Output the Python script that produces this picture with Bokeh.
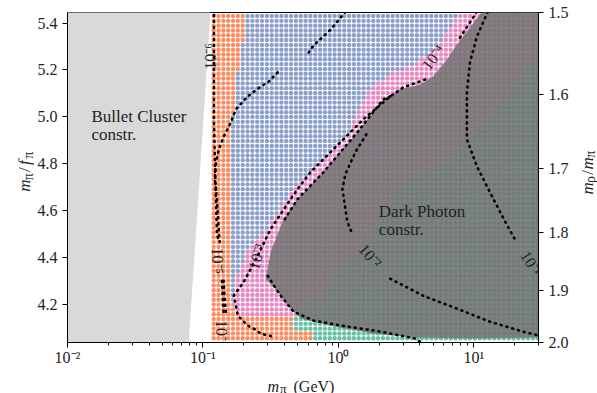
import math
import numpy as np
from bokeh.plotting import figure
from bokeh.layouts import row, column
from bokeh.models import (ColumnDataSource, LinearAxis, FixedTicker, CustomJSTickFormatter,
                          PrintfTickFormatter, Label, Range1d)
from bokeh.core.properties import value
from bokeh.embed import file_html
from bokeh.resources import INLINE

FONT = "Liberation Serif"
INK = "#222222"

# ---------------------------------------------------------------- axes
x_lo, x_hi = 0.01, 30.0          # m_pi (GeV), log scale
y_lo, y_hi = 4.037, 5.445        # m_pi / f_pi

x_major = [0.01, 0.1, 1, 10]
x_major_exp = [-2, -1, 0, 1]
x_major_labels = ["10\u207b\u00b2", "10\u207b\u00b9", "10\u2070", "10\u00b9"]
x_minor = [k * 10.0 ** e for e in (-2, -1, 0, 1) for k in range(2, 10)]

y_major = [4.2, 4.4, 4.6, 4.8, 5.0, 5.2, 5.4]

# right axis: m_rho/m_pi and where each value sits on the m_pi/f_pi scale
rho_ratio_labels = ["1.5", "1.6", "1.7", "1.8", "1.9", "2.0"]
rho_ratio_pos = [5.445, 5.095, 4.781, 4.508, 4.259, 4.037]

# ---------------------------------------------------------------- scan grid
scan_m_pi = np.geomspace(0.12, 29.6, 68)
scan_ratio = np.linspace(4.055, 5.43, 68)

# region boundaries (m_pi in GeV at a given m_pi/f_pi), ascending m_pi/f_pi
orange_blue_y = [4.1475, 4.224, 4.309, 4.479, 4.649, 4.819, 4.947, 5.074, 5.180, 5.244, 5.308, 5.371, 5.448]
orange_blue_x = [0.170, 0.165, 0.158, 0.155, 0.155, 0.158, 0.163, 0.170, 0.178, 0.190, 0.195, 0.205, 0.210]

blue_pink_y = [4.148, 4.224, 4.322, 4.437, 4.543, 4.671, 4.734, 4.917, 5.117, 5.180, 5.214, 5.274, 5.329, 5.448]
blue_pink_x = [0.166, 0.166, 0.181, 0.214, 0.316, 0.444, 0.553, 1.165, 1.635, 2.412, 3.383, 4.749, 5.92, 7.889]

pink_green_y = [4.152, 4.279, 4.364, 4.424, 4.509, 4.636, 4.704, 4.819, 4.976, 5.087, 5.223, 5.265, 5.30]
pink_green_x = [0.4995, 0.874, 1.034, 1.528, 1.809, 2.412, 2.858, 6.33, 12.46, 17.48, 25.81, 29.4, 40.0]

low_band_top = 4.1475
low_split_y = [4.06, 4.085, 4.09]
low_split_x = [0.6225, 0.6225, 0.483]

region_colors = ["#fc8d62", "#8da0cb", "#e78ac3", "#66c2a5"]

# excluded regions
bullet_x = [0.0090, 0.1140, 0.0782, 0.0090]
bullet_y = [5.46, 5.46, 4.02, 4.02]

dark_photon_x = [11.9, 7.499, 6.33, 4.996, 4.009, 2.858, 2.142, 1.379, 0.776, 0.4995, 0.394, 0.316,
                 0.2905, 0.356, 0.444, 0.526, 0.919, 1.809, 3.561, 9.346, 29.4, 40.0, 40.0]
dark_photon_y = [5.46, 5.308, 5.244, 5.172, 5.138, 5.117, 5.074, 4.934, 4.764, 4.649, 4.564, 4.424,
                 4.309, 4.254, 4.182, 4.139, 4.105, 4.075, 4.058, 4.054, 4.058, 4.058, 5.46]

# contour lines (dotted), split where a level label sits
c6_top_x = [0.1205, 0.1205, 0.1246, 0.1267, 0.1300]
c6_top_y = [5.46, 4.989, 4.649, 4.509, 4.466]
c6_low_x = [0.1380, 0.1403, 0.1420]
c6_low_y = [4.300, 4.220, 4.165]

c5_top_x = [1.126, 0.8735, 0.655, 0.582]
c5_top_y = [5.448, 5.371, 5.304, 5.261]
c5_mid_x = [0.356, 0.3006, 0.267, 0.2142, 0.1748, 0.1607, 0.1427, 0.1311, 0.1246, 0.1226, 0.1267, 0.1311, 0.1330]
c5_mid_y = [5.189, 5.146, 5.129, 5.087, 5.032, 4.976, 4.917, 4.862, 4.806, 4.734, 4.649, 4.509, 4.466]
c5_low_x = [0.1420, 0.1450, 0.1476]
c5_low_y = [4.300, 4.220, 4.165]

c4_top_x = [10.52, 7.889]
c4_top_y = [5.448, 5.3375]
c4_main_x = [4.362, 3.006, 2.412, 1.528, 1.034, 0.6225, 0.4995, 0.4437, 0.3162, 0.2538, 0.2002,
             0.169, 0.181, 0.2142, 0.2371, 0.267, 0.327]
c4_main_y = [5.159, 5.125, 5.087, 4.989, 4.891, 4.764, 4.6915, 4.649, 4.5215, 4.4067, 4.2962,
             4.2367, 4.1517, 4.1092, 4.0965, 4.0752, 4.0625]

c3_top_x = [2.412, 2.142, 1.379, 0.776, 0.4995, 0.394]
c3_top_y = [5.087, 5.074, 4.934, 4.764, 4.649, 4.5555]
c3_low_x = [0.3006, 0.3745, 0.4668, 0.655, 1.165, 2.036, 3.684, 4.009]
c3_low_y = [4.3217, 4.2367, 4.1687, 4.1305, 4.105, 4.0837, 4.054, 4.04]

c2_top_x = [1.608, 1.334, 1.126, 1.070, 1.165, 1.2675]
c2_top_y = [4.925, 4.849, 4.755, 4.691, 4.551, 4.5003]
c2_low_x = [2.412, 4.217, 7.499, 13.11, 22.93, 31.0]
c2_low_y = [4.309, 4.2367, 4.1815, 4.126, 4.0837, 4.065]

c1_x = [12.675, 10.52, 9.346, 8.881, 8.881, 10.52, 13.11, 16.90, 20.02]
c1_y = [5.448, 5.342, 5.231, 5.104, 4.904, 4.789, 4.679, 4.556, 4.479]

contour_segments = [(c6_top_x, c6_top_y), (c6_low_x, c6_low_y),
                    (c5_top_x, c5_top_y), (c5_mid_x, c5_mid_y), (c5_low_x, c5_low_y),
                    (c4_top_x, c4_top_y), (c4_main_x, c4_main_y),
                    (c3_top_x, c3_top_y), (c3_low_x, c3_low_y),
                    (c2_top_x, c2_top_y), (c2_low_x, c2_low_y),
                    (c1_x, c1_y)]

level_text = ["10\u207b\u2076", "10\u207b\u2075", "10\u207b\u2076", "10\u207b\u2074",
              "10\u207b\u00b3", "10\u207b\u00b2", "10\u207b\u00b9"]
level_x = [0.1131, 0.1280, 0.1380, 5.00, 0.2495, 1.7198, 26.5]
level_y = [5.257, 4.3855, 4.076, 5.253, 4.4025, 4.4067, 4.375]
level_angle_deg = [90, -90, -90, 52, 74, -50, -58]

# ---------------------------------------------------------------- page geometry
PAGE_W, PAGE_H = 597, 393
LEFT_W, RIGHT_W, BOTTOM_H = 34, 25, 25
MAIN_W, MAIN_H = PAGE_W - LEFT_W - RIGHT_W, PAGE_H - BOTTOM_H
FRAME_L, FRAME_T, FRAME_W, FRAME_H = 66, 12, 472, 332
PX_DEC = FRAME_W / (math.log10(x_hi) - math.log10(x_lo))
PX_UNIT = FRAME_H / (y_hi - y_lo)


def dx(px):
    return 10 ** (math.log10(x_lo) + (px - FRAME_L) / PX_DEC)


def dy(py):
    return y_hi - (py - FRAME_T) / PX_UNIT


# ---------------------------------------------------------------- classify scan points
M, R = np.meshgrid(scan_m_pi, scan_ratio)
m = M.ravel()
r = R.ravel()


def edge(yv, xs):
    return 10 ** np.interp(r, yv, np.log10(xs))


b_ob = edge(orange_blue_y, orange_blue_x)
b_bp = edge(blue_pink_y, blue_pink_x)
b_pg = edge(pink_green_y, pink_green_x)
b_low = edge(low_split_y, low_split_x)

cls = np.where(r < low_band_top,
               np.where(m < b_low, 0, 3),
               np.where(m < b_ob, 0, np.where(m < b_bp, 1, np.where(m < b_pg, 2, 3))))
colors = [region_colors[c] for c in cls]

src = ColumnDataSource(dict(x=m, y=r, c=colors))

# ---------------------------------------------------------------- main figure
p = figure(width=MAIN_W, height=MAIN_H, x_axis_type="log",
           x_range=Range1d(x_lo, x_hi), y_range=Range1d(y_lo, y_hi),
           output_backend="svg", toolbar_location=None,
           min_border_left=FRAME_L - LEFT_W, min_border_right=MAIN_W - (FRAME_L - LEFT_W) - FRAME_W,
           min_border_top=FRAME_T, min_border_bottom=MAIN_H - FRAME_T - FRAME_H,
           background_fill_color="white", border_fill_color="white")
p.outline_line_color = "black"
p.outline_line_width = 1
p.grid.visible = False

p.patch(bullet_x, bullet_y, fill_color="#d9d9d9", line_color=None)
p.scatter("x", "y", source=src, size=4.4, fill_color="c", line_color=None, marker="circle")
p.patch(dark_photon_x, dark_photon_y, fill_color="#737373", fill_alpha=0.88, line_color=None)

for xs, ys in contour_segments:
    p.line(xs, ys, line_color="black", line_width=2.6, line_dash="1 5", line_cap="round")

p.text(x=level_x, y=level_y, text=level_text,
       angle=[math.radians(a) for a in level_angle_deg],
       text_font=value(FONT), text_font_size="16px", text_color=INK,
       text_align="center", text_baseline="middle")


def style_axis(ax):
    ax.axis_line_color = "black"
    ax.major_tick_line_color = "black"
    ax.major_tick_out = 5
    ax.major_tick_in = 0
    ax.major_label_text_font = FONT
    ax.major_label_text_font_size = "16px"
    ax.major_label_text_color = INK


xa = p.xaxis[0]
style_axis(xa)
xa.ticker = FixedTicker(ticks=x_major, minor_ticks=x_minor)
xa.formatter = CustomJSTickFormatter(
    args=dict(exps=x_major_exp, labels=x_major_labels),
    code="const e = Math.round(Math.log10(tick)); const i = exps.indexOf(e); return i >= 0 ? labels[i] : '';")
xa.minor_tick_line_color = "black"
xa.minor_tick_out = 3
xa.minor_tick_in = 0
xa.major_label_standoff = 1

ya = p.yaxis[0]
style_axis(ya)
ya.ticker = FixedTicker(ticks=y_major)
ya.formatter = PrintfTickFormatter(format="%.1f")
ya.minor_tick_line_color = None
ya.major_label_standoff = 5

ra = LinearAxis(ticker=FixedTicker(ticks=rho_ratio_pos),
                formatter=CustomJSTickFormatter(
                    args=dict(pos=rho_ratio_pos, labels=rho_ratio_labels),
                    code="for (let i = 0; i < pos.length; i++) { if (Math.abs(pos[i] - tick) < 1e-6) return labels[i]; } return '';"))
style_axis(ra)
ra.minor_tick_line_color = None
ra.major_label_standoff = 5
p.add_layout(ra, "right")

for txt, px, py in [("Bullet Cluster", 90, 117), ("constr.", 90, 135),
                    ("Dark Photon", 378, 212), ("constr.", 378, 230)]:
    p.add_layout(Label(x=dx(px), y=dy(py), text=txt, text_font=FONT, text_font_size="17px",
                       text_color=INK, text_align="left", text_baseline="alphabetic"))


# ---------------------------------------------------------------- axis titles with subscripts
def title_strip(w, h):
    f = figure(width=w, height=h, x_range=Range1d(0, w), y_range=Range1d(0, h),
               output_backend="svg", toolbar_location=None, min_border=0,
               x_axis_location=None, y_axis_location=None,
               background_fill_color="white", border_fill_color="white")
    f.outline_line_color = None
    f.grid.visible = False
    return f


def rich(f, pieces, x0, y0, angle_deg):
    """Place (text, size, italic, advance-offset, subscript-drop) pieces along one baseline."""
    a = math.radians(angle_deg)
    ux, uy = math.cos(a), math.sin(a)
    nx, ny = math.sin(a), -math.cos(a)
    for text, size, italic, along, drop in pieces:
        f.text(x=[x0 + ux * along + nx * drop], y=[y0 + uy * along + ny * drop], text=[text],
               angle=a, text_font=value(FONT), text_font_size=f"{size}px",
               text_font_style="italic" if italic else "normal", text_color=INK,
               text_align="left", text_baseline="alphabetic")


left_strip = title_strip(LEFT_W, MAIN_H)
rich(left_strip, [("m", 17, True, 0, 0), ("\u03c0", 14, False, 13, 3.5), ("/", 17, False, 22, 0),
                  ("f", 17, True, 30, 0), ("\u03c0", 14, False, 37, 3.5)],
     24, MAIN_H - 200, 90)

right_strip = title_strip(RIGHT_W, MAIN_H)
rich(right_strip, [("m", 17, True, 0, 0), ("\u03c1", 14, False, 13, 3), ("/", 17, False, 22, 0),
                   ("m", 17, True, 28, 0), ("\u03c0", 14, False, 41, 3)],
     587 - (LEFT_W + MAIN_W), MAIN_H - 203, 90)

bottom_strip = title_strip(PAGE_W, BOTTOM_H)
rich(bottom_strip, [("m", 16, True, 0, 0), ("\u03c0", 13, False, 12.5, 2),
                    ("(GeV)", 16, False, 26, 0)],
     267, PAGE_H - 386, 0)

layout = column(row(left_strip, p, right_strip), bottom_strip)

open("out.html", "w").write(file_html(layout, INLINE))
